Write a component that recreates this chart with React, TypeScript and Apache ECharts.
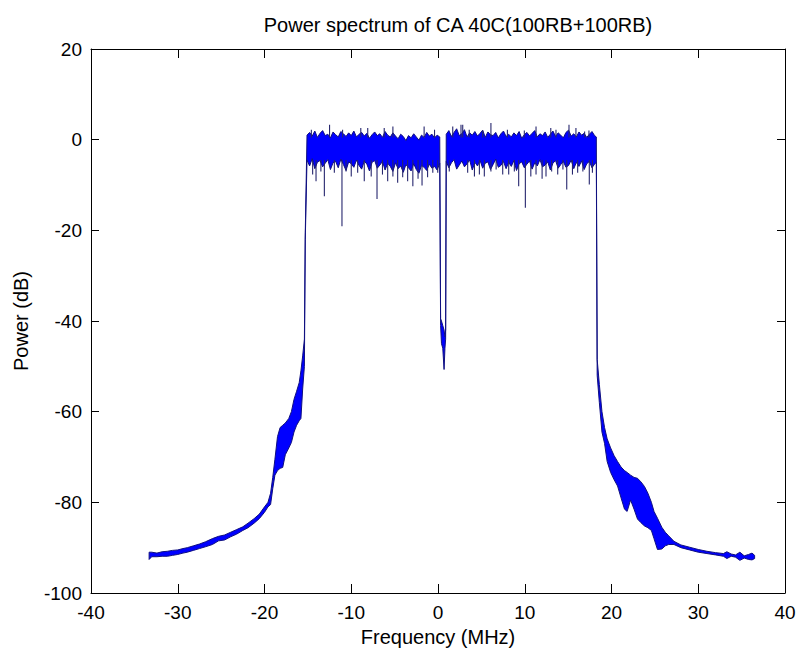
import { useEffect, useRef } from 'react';
import * as echarts from 'echarts';

// ---- Axis ranges / ticks ----
const xMin = -40;
const xMax = 40;
const xStep = 10;
const yMin = -100;
const yMax = 20;
const yStep = 20;

const titleText = 'Power spectrum of CA 40C(100RB+100RB)';
const xName = 'Frequency (MHz)';
const yName = 'Power (dB)';

// ---- Spectrum envelope (upper / lower edge of the trace) ----
const leftSkirtFreq = [-33.3, -33.0, -32.4, -31.8, -31.2, -30.6, -30.0, -29.4, -28.9, -28.2, -27.5, -26.8, -26.0, -25.3, -24.6, -23.9, -23.2, -22.5, -21.9, -21.2, -20.6, -20.0, -19.6, -19.3, -19.05, -18.8, -18.5, -18.2, -17.9, -17.6, -17.2, -16.9, -16.6, -16.3, -16.0, -15.8, -15.6, -15.4, -15.3];
const leftSkirtUpper = [-91.0, -91.0, -91.2, -90.9, -90.8, -90.6, -90.5, -90.2, -90.0, -89.6, -89.2, -88.7, -88.0, -87.5, -87.2, -86.6, -86.0, -85.4, -84.6, -83.6, -82.6, -81.0, -80.0, -78.0, -74.5, -70.5, -65.5, -63.5, -63.0, -62.5, -61.5, -60.0, -57.3, -55.5, -53.6, -51.0, -47.7, -44.0, -20.5];
const leftSkirtLower = [-92.6, -92.0, -92.0, -91.9, -91.9, -91.7, -91.5, -91.2, -91.0, -90.6, -90.2, -89.8, -89.3, -88.5, -88.3, -87.6, -87.0, -86.2, -85.6, -84.6, -83.6, -82.2, -81.0, -80.5, -77.0, -74.0, -73.0, -72.5, -72.3, -69.5, -68.0, -66.8, -64.5, -63.0, -62.0, -61.5, -55.0, -50.0, -22.0];

const band1Freq = [-15.1, -14.8, -14.5, -14.2, -13.9, -13.6, -13.3, -13.0, -12.7, -12.4, -12.1, -11.8, -11.5, -11.2, -10.9, -10.6, -10.3, -10.0, -9.7, -9.4, -9.1, -8.8, -8.5, -8.2, -7.9, -7.6, -7.3, -7.0, -6.7, -6.4, -6.1, -5.8, -5.5, -5.2, -4.9, -4.6, -4.3, -4.0, -3.7, -3.4, -3.1, -2.8, -2.5, -2.2, -1.9, -1.6, -1.3, -1.0, -0.7, -0.4, -0.1, 0.2];
const band1Upper = [1.0, 1.6, 0.8, 1.9, 0.5, 1.4, 2.0, 0.9, 1.2, 0.4, 1.7, 1.1, 0.6, 1.8, 1.3, 0.7, 1.5, 0.9, 1.9, 0.6, 1.2, 1.6, 0.8, 1.4, 0.3, 1.1, 1.7, 0.9, 1.3, 0.5, 1.8, 1.0, 0.6, 1.5, 0.8, 0.2, 1.2, 0.7, -0.2, 0.9, 0.4, 1.3, 0.6, -0.1, 1.0, 0.5, 1.6, 0.8, 1.2, 0.4, 1.0, 0.6];
const band1Lower = [-4.5, -5.8, -4.2, -6.4, -5.0, -4.6, -6.0, -5.2, -4.4, -6.6, -5.1, -4.8, -6.2, -4.3, -5.5, -6.8, -4.9, -5.3, -6.1, -4.5, -5.7, -6.5, -4.7, -5.4, -6.9, -5.0, -4.6, -6.3, -5.6, -4.8, -6.7, -5.2, -5.9, -7.0, -5.1, -6.4, -5.8, -7.2, -5.5, -6.2, -6.9, -5.3, -6.6, -7.4, -5.7, -6.1, -6.8, -5.4, -6.3, -5.9, -6.7, -5.2];

const notchFreq = [0.3, 0.4, 0.55, 0.7, 0.8, 0.88];
const notchUpper = [-39.5, -40.0, -41.0, -42.0, -43.5, -42.0];
const notchLower = [-41.0, -45.0, -46.0, -50.7, -46.0, -44.0];

const band2Freq = [0.95, 1.25, 1.55, 1.85, 2.15, 2.45, 2.75, 3.05, 3.35, 3.65, 3.95, 4.25, 4.55, 4.85, 5.15, 5.45, 5.75, 6.05, 6.35, 6.65, 6.95, 7.25, 7.55, 7.85, 8.15, 8.45, 8.75, 9.05, 9.35, 9.65, 9.95, 10.25, 10.55, 10.85, 11.15, 11.45, 11.75, 12.05, 12.35, 12.65, 12.95, 13.25, 13.55, 13.85, 14.15, 14.45, 14.75, 15.05, 15.35, 15.65, 15.95, 16.25, 16.55, 16.85, 17.15, 17.45, 17.75, 18.05, 18.25];
const band2Upper = [1.2, 2.0, 0.7, 1.6, 2.4, 0.9, 1.3, 2.2, 0.6, 1.5, 1.0, 1.8, 0.8, 1.4, 2.1, 0.5, 1.7, 1.1, 0.9, 1.6, 0.4, 1.3, 1.9, 0.7, 1.2, 0.6, 1.5, 0.9, 1.8, 0.3, 1.1, 1.6, 0.8, 1.4, 2.0, 0.6, 1.3, 0.9, 1.7, 0.5, 1.2, 1.9, 0.7, 1.5, 1.0, 0.4, 1.6, 2.1, 0.8, 1.3, 0.6, 1.7, 1.0, 1.4, 0.5, 1.2, 1.8, 0.9, 0.6];
const band2Lower = [-4.8, -6.2, -5.1, -4.4, -6.5, -5.6, -4.7, -6.0, -5.3, -4.5, -6.7, -5.0, -5.8, -4.6, -6.3, -5.2, -4.9, -6.6, -5.5, -4.3, -6.1, -5.7, -4.8, -6.4, -5.0, -5.9, -4.6, -6.8, -5.3, -4.9, -6.2, -5.4, -4.7, -6.5, -5.1, -5.8, -4.4, -6.0, -5.6, -4.9, -6.7, -5.2, -4.6, -6.3, -5.5, -4.8, -6.1, -5.7, -4.5, -6.4, -5.0, -5.9, -4.7, -6.6, -5.3, -4.8, -6.2, -5.4, -5.0];

const rightSkirtFreq = [18.35, 18.6, 18.9, 19.2, 19.5, 19.9, 20.3, 20.7, 21.1, 21.5, 21.8, 22.2, 22.6, 23.0, 23.4, 23.8, 24.2, 24.6, 24.9, 25.3, 25.8, 26.2, 26.6, 27.2, 28.0, 29.0, 30.0, 31.0, 32.0, 32.9, 33.3, 33.8, 34.3, 34.8, 35.3, 35.8, 36.2, 36.5];
const rightSkirtUpper = [-48.5, -54.0, -60.0, -63.5, -66.0, -68.0, -69.7, -71.0, -72.2, -73.0, -73.4, -74.0, -74.5, -74.7, -75.5, -76.5, -78.0, -80.0, -82.0, -83.5, -85.5, -86.6, -87.4, -88.6, -89.4, -89.9, -90.4, -90.8, -91.1, -91.3, -90.9, -91.4, -91.6, -91.0, -91.8, -91.5, -91.2, -91.7];
const rightSkirtLower = [-52.0, -58.0, -64.5, -67.0, -71.0, -73.4, -75.0, -76.4, -79.0, -81.5, -82.0, -79.5, -81.5, -83.7, -84.5, -85.2, -85.6, -86.2, -88.0, -90.4, -90.3, -89.6, -89.3, -89.3, -90.0, -90.5, -91.0, -91.3, -91.6, -91.9, -92.4, -91.9, -92.1, -92.8, -92.3, -92.6, -92.7, -92.4];

// ---- Individual spikes (vertical strokes) that stick out of the band ----
const spikeFreq = [-14.45, -14.06, -13.5, -13.1, -11.95, -11.07, -10.6, -10.0, -9.26, -8.5, -7.7, -7.03, -6.4, -5.8, -5.2, -4.65, -4.07, -3.5, -2.9, -2.3, -1.84, -1.2, -0.6, -0.03, 1.3, 3.42, 4.2, 4.77, 5.34, 6.1, 6.7, 7.46, 8.15, 8.8, 9.3, 10.07, 10.7, 11.3, 12.0, 12.45, 13.1, 13.8, 14.4, 14.84, 15.5, 16.1, 16.7, 17.44, 17.8,
  -14.6, -12.5, -11.0, -8.9, -8.1, -6.2, -5.2, -1.6, -0.4, 1.7, 2.65, 2.85, 3.6, 5.15, 6.1, 8.0, 9.95, 11.3, 13.0, 13.6, 15.1, 15.9, 16.9, 17.4];
const spikeHigh = [-4.5, -4.5, -4.5, -4.5, -4.5, -4.5, -4.5, -4.5, -4.5, -4.5, -4.5, -4.5, -4.5, -4.5, -4.5, -4.5, -4.5, -4.5, -4.5, -4.5, -4.5, -4.5, -4.5, -4.5, -4.5, -4.5, -4.5, -4.5, -4.5, -4.5, -4.5, -4.5, -4.5, -4.5, -4.5, -4.5, -4.5, -4.5, -4.5, -4.5, -4.5, -4.5, -4.5, -4.5, -4.5, -4.5, -4.5, -4.5, -4.5,
  2.2, 3.3, 2.2, 2.6, 2.6, 2.6, 2.9, 2.9, 2.2, 2.9, 3.3, 3.3, 2.2, 2.0, 3.7, 2.2, 2.0, 2.9, 2.6, 2.2, 3.3, 2.6, 1.8, 2.0];
const spikeLow = [-7.7, -9.2, -7.0, -12.5, -7.3, -19.1, -7.0, -8.1, -7.3, -9.2, -8.1, -13.1, -7.7, -9.2, -8.1, -9.5, -8.3, -9.2, -10.3, -8.6, -10.1, -8.3, -7.3, -7.3, -7.0, -7.3, -8.1, -7.7, -8.1, -7.0, -6.6, -7.7, -7.7, -7.0, -10.3, -15.0, -8.1, -7.7, -8.6, -8.1, -7.0, -7.7, -6.6, -11.0, -7.7, -7.3, -7.0, -9.9, -7.3,
  0.5, 0.5, 0.5, 0.5, 0.5, 0.5, 0.5, 0.5, 0.5, 0.5, 0.5, 0.5, 0.5, 0.5, 0.5, 0.5, 0.5, 0.5, 0.5, 0.5, 0.5, 0.5, 0.5, 0.5];

const FONT = "'Liberation Sans', Arial, sans-serif";

export default function App() {
  const ref = useRef<HTMLDivElement>(null);

  useEffect(() => {
    if (!ref.current) return;
    const chart = echarts.init(ref.current, undefined, { renderer: 'svg' });

    const envFreq = [...leftSkirtFreq, ...band1Freq, ...notchFreq, ...band2Freq, ...rightSkirtFreq];
    const envUpper = [...leftSkirtUpper, ...band1Upper, ...notchUpper, ...band2Upper, ...rightSkirtUpper];
    const envLower = [...leftSkirtLower, ...band1Lower, ...notchLower, ...band2Lower, ...rightSkirtLower];
    const envData = envFreq.map((f, i) => [f, envUpper[i], envLower[i]]);
    const spikeData = spikeFreq.map((f, i) => [f, spikeHigh[i], spikeLow[i]]);

    const axisCommon = {
      type: 'value' as const,
      splitLine: { show: false },
      axisLine: { show: true, onZero: false, lineStyle: { color: '#000', width: 1 } },
    };
    const labelStyle = { color: '#000', fontSize: 19, fontFamily: FONT };

    chart.setOption({
      animation: false,
      backgroundColor: '#fff',
      grid: { left: 91, right: 11, top: 49, bottom: 59, containLabel: false, outerBoundsMode: 'none' },
      graphic: [
        {
          type: 'text',
          x: 458,
          y: 25,
          style: { text: titleText, align: 'center', verticalAlign: 'middle', fontSize: 20, fontFamily: FONT, fill: '#000' },
        },
      ],
      xAxis: [
        {
          ...axisCommon,
          min: xMin, max: xMax, interval: xStep,
          position: 'bottom',
          axisTick: { show: true, inside: true, length: 9, lineStyle: { color: '#000' } },
          axisLabel: { ...labelStyle, margin: 10 },
          name: xName,
          nameLocation: 'middle',
          nameGap: 34,
          nameTextStyle: { color: '#000', fontSize: 20, fontFamily: FONT },
        },
        {
          ...axisCommon,
          min: xMin, max: xMax, interval: xStep,
          position: 'top',
          axisTick: { show: true, inside: true, length: 9, lineStyle: { color: '#000' } },
          axisLabel: { show: false },
        },
      ],
      yAxis: [
        {
          ...axisCommon,
          min: yMin, max: yMax, interval: yStep,
          position: 'left',
          axisTick: { show: true, inside: true, length: 8, lineStyle: { color: '#000' } },
          axisLabel: { ...labelStyle, margin: 9 },
          name: yName,
          nameLocation: 'middle',
          nameGap: 60,
          nameRotate: 90,
          nameTextStyle: { color: '#000', fontSize: 20, fontFamily: FONT },
        },
        {
          ...axisCommon,
          min: yMin, max: yMax, interval: yStep,
          position: 'right',
          axisTick: { show: true, inside: true, length: 8, lineStyle: { color: '#000' } },
          axisLabel: { show: false },
        },
      ],
      series: [
        {
          type: 'custom',
          name: 'spectrum',
          xAxisIndex: 0,
          yAxisIndex: 0,
          encode: { x: 0, y: [1, 2] },
          data: envData,
          renderItem: (params: any, api: any) => {
            if (params.dataIndex !== 0) return null;
            const pts: number[][] = [];
            for (let i = 0; i < envData.length; i++) pts.push(api.coord([envData[i][0], envData[i][1]]));
            for (let i = envData.length - 1; i >= 0; i--) pts.push(api.coord([envData[i][0], envData[i][2]]));
            return {
              type: 'polygon',
              shape: { points: pts },
              style: { fill: '#0000ff', stroke: '#101080', lineWidth: 1, lineJoin: 'miter' },
            };
          },
        },
        {
          type: 'custom',
          name: 'spikes',
          xAxisIndex: 0,
          yAxisIndex: 0,
          encode: { x: 0, y: [1, 2] },
          data: spikeData,
          renderItem: (_params: any, api: any) => {
            const p1 = api.coord([api.value(0), api.value(1)]);
            const p2 = api.coord([api.value(0), api.value(2)]);
            return {
              type: 'line',
              shape: { x1: p1[0], y1: p1[1], x2: p2[0], y2: p2[1] },
              style: { stroke: '#26266e', lineWidth: 1.1 },
            };
          },
        },
      ],
    });

    return () => chart.dispose();
  }, []);

  return (
    <div
      ref={ref}
      style={{ position: 'fixed', left: 0, top: 0, width: 796, height: 652, background: '#fff' }}
    />
  );
}
